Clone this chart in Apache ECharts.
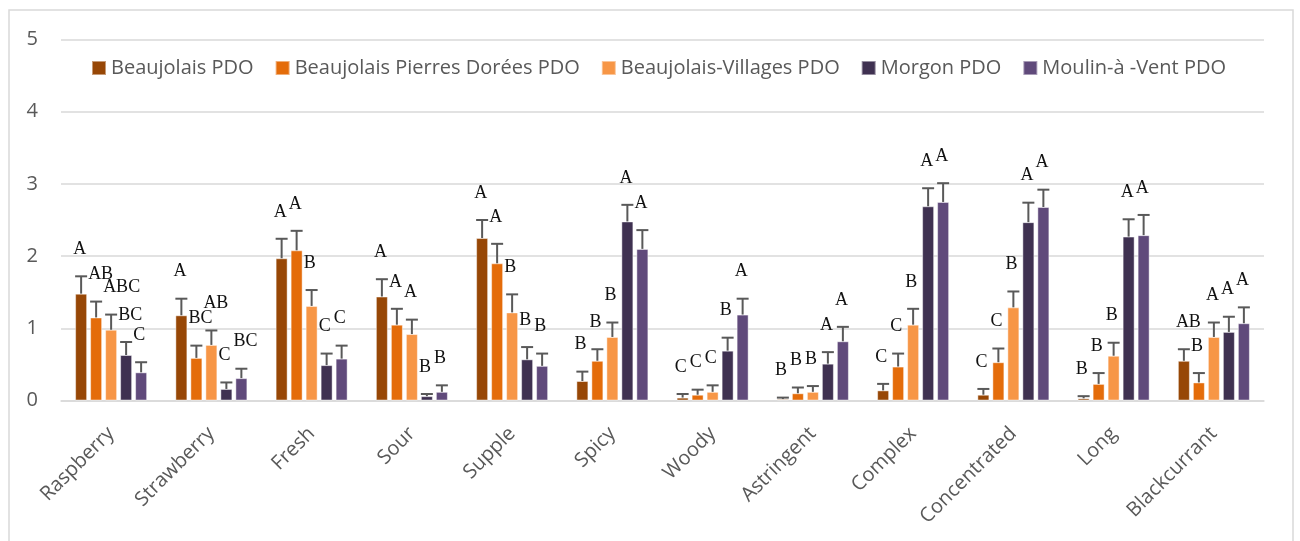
<!DOCTYPE html>
<html>
<head>
<meta charset="utf-8">
<script src="https://cdn.jsdelivr.net/npm/echarts@6/dist/echarts.min.js"></script>
<style>
  html, body { margin: 0; padding: 0; background: #fff; }
  #chart { width: 1300px; height: 541px; }
</style>
</head>
<body>
<div id="chart"></div>
<script>
const categories = ['Raspberry', 'Strawberry', 'Fresh', 'Sour', 'Supple', 'Spicy', 'Woody', 'Astringent', 'Complex', 'Concentrated', 'Long', 'Blackcurrant'];
const seriesNames = ['Beaujolais PDO', 'Beaujolais Pierres Dorées PDO', 'Beaujolais-Villages PDO', 'Morgon PDO', 'Moulin-à -Vent PDO'];
const colors = ['#974706', '#E46C0A', '#F79646', '#3F3151', '#604A7B'];

// mean scores
const beaujolais   = [1.48, 1.18, 1.97, 1.44, 2.25, 0.27, 0.04, 0.02, 0.14, 0.08, 0.03, 0.55];
const pierres      = [1.15, 0.59, 2.08, 1.05, 1.90, 0.55, 0.08, 0.10, 0.47, 0.53, 0.23, 0.25];
const villages     = [0.98, 0.77, 1.31, 0.92, 1.22, 0.88, 0.12, 0.12, 1.05, 1.29, 0.62, 0.88];
const morgon       = [0.63, 0.16, 0.49, 0.06, 0.57, 2.48, 0.69, 0.51, 2.69, 2.47, 2.27, 0.95];
const moulin       = [0.39, 0.31, 0.58, 0.12, 0.48, 2.10, 1.19, 0.82, 2.75, 2.68, 2.29, 1.07];

// error bar sizes (upper only)
const beaujolaisErr = [0.24, 0.23, 0.27, 0.24, 0.25, 0.13, 0.05, 0.02, 0.09, 0.08, 0.03, 0.16];
const pierresErr    = [0.22, 0.17, 0.27, 0.22, 0.27, 0.16, 0.07, 0.08, 0.18, 0.19, 0.15, 0.13];
const villagesErr   = [0.21, 0.20, 0.22, 0.20, 0.25, 0.20, 0.09, 0.08, 0.22, 0.22, 0.18, 0.20];
const morgonErr     = [0.18, 0.09, 0.16, 0.03, 0.17, 0.23, 0.18, 0.16, 0.25, 0.27, 0.24, 0.21];
const moulinErr     = [0.14, 0.13, 0.18, 0.09, 0.17, 0.26, 0.22, 0.20, 0.26, 0.24, 0.28, 0.22];

// significance letters
const beaujolaisLet = ['A', 'A', 'A', 'A', 'A', 'B', 'C', 'B', 'C', 'C', 'B', 'AB'];
const pierresLet    = ['AB', 'BC', 'A', 'A', 'A', 'B', 'C', 'B', 'C', 'C', 'B', 'B'];
const villagesLet   = ['ABC', 'AB', 'B', 'A', 'B', 'B', 'C', 'B', 'B', 'B', 'B', 'A'];
const morgonLet     = ['BC', 'C', 'C', 'B', 'B', 'A', 'B', 'A', 'A', 'A', 'A', 'A'];
const moulinLet     = ['C', 'BC', 'C', 'B', 'B', 'A', 'A', 'A', 'A', 'A', 'A', 'A'];

const yTicks = [0, 1, 2, 3, 4, 5];

const values = [beaujolais, pierres, villages, morgon, moulin];
const errors = [beaujolaisErr, pierresErr, villagesErr, morgonErr, moulinErr];
const letters = [beaujolaisLet, pierresLet, villagesLet, morgonLet, moulinLet];

const BAR_W = 12;
const BAR_GAP = 3;
const gray = '#595959';

const chart = echarts.init(document.getElementById('chart'));

const barSeries = values.map((vals, s) => ({
    name: seriesNames[s],
    type: 'bar',
    data: vals,
    barWidth: BAR_W,
    barGap: (BAR_GAP / BAR_W * 100) + '%',
    itemStyle: { color: colors[s], borderColor: 'rgba(255,255,255,0.45)', borderWidth: 1 },
    z: 2
}));

// error bars + letters drawn on top of the bars
const errSeries = values.map((vals, s) => ({
    type: 'custom',
    z: 5,
    silent: true,
    encode: { x: 0, y: 1 },
    data: vals.map((v, i) => [i, v, errors[s][i]]),
    renderItem: function (params, api) {
        const i = api.value(0);
        const v = api.value(1);
        const e = api.value(2);
        const base = api.coord([i, v]);
        const top = api.coord([i, v + e]);
        const x = base[0] + (s - 2) * (BAR_W + BAR_GAP);
        return {
            type: 'group',
            children: [
                { type: 'line', shape: { x1: x, y1: base[1], x2: x, y2: top[1] }, style: { stroke: gray, lineWidth: 2 } },
                { type: 'line', shape: { x1: x - 6, y1: top[1], x2: x + 6, y2: top[1] }, style: { stroke: gray, lineWidth: 2 } },
                {
                    type: 'text',
                    x: x - BAR_W / 2 - 2,
                    y: top[1] - 27,
                    style: {
                        text: letters[s][i],
                        fill: '#111',
                        fontSize: 18,
                        fontFamily: '"Liberation Serif", "DejaVu Serif", serif',
                        align: 'left',
                        verticalAlign: 'middle'
                    }
                }
            ]
        };
    }
}));

chart.setOption({
    animation: false,
    textStyle: { fontFamily: '"Open Sans", sans-serif' },
    graphic: [{
        type: 'rect',
        shape: { x: 9, y: 10, width: 1284, height: 560 },
        style: { fill: 'none', stroke: '#d9d9d9', lineWidth: 1.5 },
        silent: true
    }],
    legend: {
        data: seriesNames,
        left: 91,
        top: 58,
        padding: 0,
        icon: 'rect',
        itemWidth: 14,
        itemHeight: 14,
        itemGap: 21,
        textStyle: { fontSize: 20, color: gray, fontFamily: '"Open Sans", sans-serif' }
    },
    grid: { left: 61, right: 36, top: 39.5, bottom: 140.5 },
    xAxis: {
        type: 'category',
        data: categories,
        axisLine: { show: true, lineStyle: { color: '#d9d9d9', width: 1.5 } },
        axisTick: { show: false },
        axisLabel: {
            rotate: 45,
            interval: 0,
            margin: 30,
            fontSize: 20,
            color: gray,
            fontFamily: '"Open Sans", sans-serif'
        }
    },
    yAxis: {
        type: 'value',
        min: yTicks[0],
        max: yTicks[yTicks.length - 1],
        interval: 1,
        axisLine: { show: false },
        axisTick: { show: false },
        splitLine: { lineStyle: { color: '#d9d9d9', width: 1.5 } },
        axisLabel: { fontSize: 20, color: gray, margin: 23, fontFamily: '"Open Sans", sans-serif' }
    },
    series: barSeries.concat(errSeries)
});
</script>
</body>
</html>
